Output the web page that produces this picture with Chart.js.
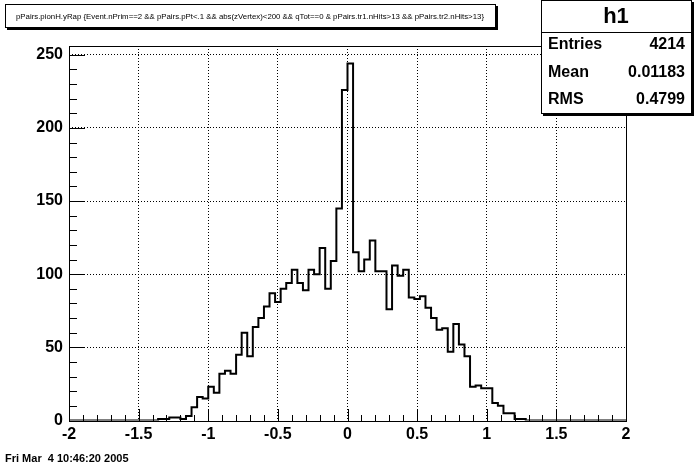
<!DOCTYPE html>
<html>
<head>
<meta charset="utf-8">
<title>pPairs.pionH.yRap</title>
<style>
  body { margin: 0; background: #fff; }
</style>
</head>
<body>
<canvas id="hist" width="696" height="468"></canvas>

<script src="https://cdn.jsdelivr.net/npm/chart.js@4/dist/chart.umd.min.js"></script>
<script>
// histogram h1: 100 bins from -2 to 2
var xMin = -2, xMax = 2;
var yMax = 256;
var counts = [
  0, 0, 0, 0, 0, 0, 0, 0, 0, 0,
  0, 0, 0, 0, 0, 0, 1, 1, 2, 2,
  1, 3, 9, 16, 15, 23, 19, 32, 34, 32,
  45, 60, 44, 64, 70, 78, 87, 81, 90, 94,
  103, 94, 89, 103, 100, 118, 90, 109, 145, 226,
  244, 115, 102, 110, 123, 102, 102, 76, 106, 99,
  103, 84, 83, 85, 77, 70, 62, 63, 47, 66,
  52, 44, 23, 24, 22, 22, 12, 10, 5, 5,
  1, 1, 0, 0, 0, 0, 0, 0, 0, 0,
  0, 0, 0, 0, 0, 0, 0, 0, 0, 0
];
var xTickValues = [-2, -1.5, -1, -0.5, 0, 0.5, 1, 1.5, 2];
var yTickValues = [0, 50, 100, 150, 200, 250];

var titleText = 'pPairs.pionH.yRap {Event.nPrim==2 && pPairs.pPt<.1 && abs(zVertex)<200 && qTot==0 & pPairs.tr1.nHits>13 && pPairs.tr2.nHits>13}';
var statsName = 'h1';
var statsLabels = ['Entries', 'Mean', 'RMS'];
var statsValues = ['4214', '0.01183', '0.4799'];
var dateText = 'Fri Mar  4 10:46:20 2005';

var FONT = '"Liberation Sans", Arial, Helvetica, sans-serif';

function histPoints() {
	var w = (xMax - xMin) / counts.length;
	var pts = [];
	for (var i = 0; i < counts.length; i++) {
		pts.push({x: xMin + i * w, y: counts[i]});
	}
	pts.push({x: xMax, y: counts[counts.length - 1]});
	return pts;
}

function box(ctx, x, y, w, h) {
	// pave with a little shadow, root style
	ctx.fillStyle = '#000';
	ctx.fillRect(x + 2, y + 2, w, h);
	ctx.fillStyle = '#fff';
	ctx.fillRect(x, y, w, h);
	ctx.strokeStyle = '#000';
	ctx.lineWidth = 1;
	ctx.strokeRect(x + 0.5, y + 0.5, w - 1, h - 1);
	ctx.fillStyle = '#000';
}

var rootFrame = {
	id: 'rootFrame',
	beforeDraw: function(chart) {
		var ctx = chart.ctx;
		ctx.save();
		ctx.fillStyle = '#fff';
		ctx.fillRect(0, 0, chart.width, chart.height);
		ctx.restore();
	},
	afterDraw: function(chart) {
		var ctx = chart.ctx, a = chart.chartArea;
		var xs = chart.scales.x, ys = chart.scales.y;
		var L = Math.round(a.left), R = Math.round(a.right);
		var T = Math.round(a.top), B = Math.round(a.bottom);
		ctx.save();
		ctx.strokeStyle = '#000';
		ctx.lineWidth = 1;
		ctx.strokeRect(L + 0.5, T + 0.5, R - L, B - T);

		// inward ticks, bottom axis
		ctx.beginPath();
		for (var k = 0; k <= 40; k++) {
			var px = Math.round(xs.getPixelForValue(xMin + k * 0.1)) + 0.5;
			var len = (k % 5 === 0) ? 12 : 6;
			ctx.moveTo(px, B);
			ctx.lineTo(px, B - len);
		}
		// inward ticks, left axis
		for (var j = 0; j <= 25; j++) {
			var py = Math.round(ys.getPixelForValue(j * 10)) + 0.5;
			var ylen = (j % 5 === 0) ? 16 : 8;
			ctx.moveTo(L, py);
			ctx.lineTo(L + ylen, py);
		}
		ctx.stroke();

		// title pave
		box(ctx, 5, 4, 491, 24);
		ctx.font = '8px ' + FONT;
		ctx.textAlign = 'center';
		ctx.textBaseline = 'middle';
		ctx.fillText(titleText, 250, 17, 468);

		// stats pave
		box(ctx, 541, 0, 151, 114);
		ctx.beginPath();
		ctx.moveTo(541, 32.5);
		ctx.lineTo(692, 32.5);
		ctx.stroke();
		ctx.font = 'bold 22px ' + FONT;
		ctx.textAlign = 'center';
		ctx.fillText(statsName, 616, 17);
		ctx.font = 'bold 16px ' + FONT;
		for (var s = 0; s < statsLabels.length; s++) {
			var ty = 45 + s * 27.5;
			ctx.textAlign = 'left';
			ctx.fillText(statsLabels[s], 548, ty);
			ctx.textAlign = 'right';
			ctx.fillText(statsValues[s], 685, ty);
		}

		// date stamp
		ctx.font = 'bold 11px ' + FONT;
		ctx.textAlign = 'left';
		ctx.textBaseline = 'alphabetic';
		ctx.fillText(dateText, 5, 462);
		ctx.restore();
	}
};

window.onload = function() {
	new Chart('hist', {
		type: 'line',
		data: {
			datasets: [{
				data: histPoints(),
				stepped: 'before',
				borderColor: '#000',
				borderWidth: 2,
				pointRadius: 0,
				fill: false
			}]
		},
		options: {
			responsive: false,
			animation: false,
			layout: {padding: {left: 0, top: 46, right: 70, bottom: 0}},
			plugins: {legend: {display: false}, tooltip: {enabled: false}},
			scales: {
				x: {
					type: 'linear',
					min: xMin,
					max: xMax,
					afterBuildTicks: function(s) { s.ticks = xTickValues.map(function(v) { return {value: v}; }); },
					afterFit: function(s) { s.height = 47.5; },
					grid: {
						color: '#000',
						drawTicks: false,
						lineWidth: function(c) {
							return (c.tick && (c.tick.value === xMin || c.tick.value === xMax)) ? 0 : 1;
						}
					},
					border: {display: false, dash: [1, 2]},
					ticks: {
						color: '#000',
						padding: 4,
						maxRotation: 0,
						autoSkip: false,
						font: {family: FONT, weight: 'bold', size: 16},
						callback: function(v) { return String(v); }
					}
				},
				y: {
					type: 'linear',
					min: 0,
					max: yMax,
					afterBuildTicks: function(s) { s.ticks = yTickValues.map(function(v) { return {value: v}; }); },
					afterFit: function(s) { s.width = 69; },
					grid: {
						color: '#000',
						drawTicks: false,
						lineWidth: function(c) {
							return (c.tick && c.tick.value === 0) ? 0 : 1;
						}
					},
					border: {display: false, dash: [1, 2]},
					ticks: {
						color: '#000',
						padding: 6,
						font: {family: FONT, weight: 'bold', size: 16},
						callback: function(v) { return String(v); }
					}
				}
			}
		},
		plugins: [rootFrame]
	});
};
</script>
</body>
</html>
